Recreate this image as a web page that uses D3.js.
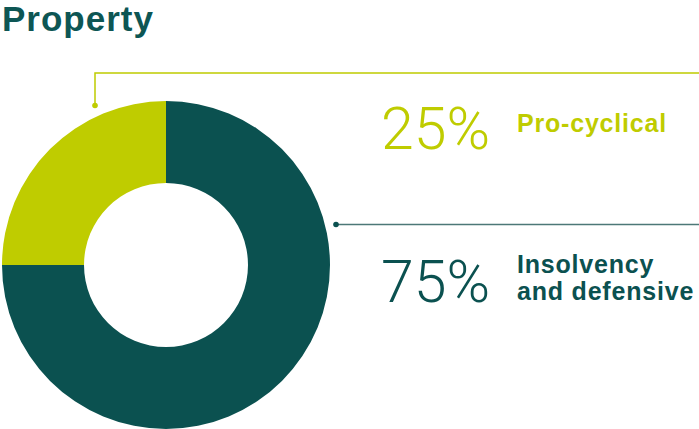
<!DOCTYPE html>
<html>
<head>
<meta charset="utf-8">
<script src="https://cdn.jsdelivr.net/npm/d3@7"></script>
<style>
  html, body { margin: 0; padding: 0; background: #fff; }
  svg { display: block; }
</style>
</head>
<body>
<svg id="chart" width="699" height="429"></svg>
<script>
// Portfolio split for the property segment
const categories = ["Insolvency and defensive", "Pro-cyclical"];
const shares = [75, 25];
const labelLines = [["Insolvency", "and defensive"], ["Pro-cyclical"]];
const colors = ["#0b5150", "#bfcc00"];

const svg = d3.select("#chart");
const width = 699, height = 429;

svg.append("text")
  .attr("x", 2).attr("y", 31)
  .attr("font-family", "Liberation Sans, Arial, sans-serif")
  .attr("font-weight", "bold")
  .attr("font-size", 35)
  .attr("letter-spacing", 1)
  .attr("fill", "#0d5654")
  .text("Property");

const cx = 166, cy = 265, outerR = 164, innerR = 82;

// Dark slice runs clockwise from 12 o'clock, green fills the top-left quadrant
const pie = d3.pie().sort(null).value(d => d).startAngle(0).endAngle(2 * Math.PI);
const arcs = pie(shares);
const arc = d3.arc().innerRadius(innerR).outerRadius(outerR);

const g = svg.append("g").attr("transform", `translate(${cx},${cy})`);
g.selectAll("path")
  .data(arcs)
  .join("path")
  .attr("d", arc)
  .attr("fill", (d, i) => colors[i]);

// Leader lines
const lineColors = ["#4d7877", "#bfcc00"];
// Insolvency: dot at the right edge, straight line out
svg.append("line")
  .attr("x1", 336).attr("y1", 224.5).attr("x2", width).attr("y2", 224.5)
  .attr("stroke", lineColors[0]).attr("stroke-width", 1.5);
svg.append("circle").attr("cx", 336).attr("cy", 224.5).attr("r", 2.8).attr("fill", colors[0]);
// Pro-cyclical: dot above the green slice, elbow up then right
svg.append("path")
  .attr("d", `M95,105.5 V73 H${width}`)
  .attr("fill", "none")
  .attr("stroke", lineColors[1]).attr("stroke-width", 1.5);
svg.append("circle").attr("cx", 95).attr("cy", 105.5).attr("r", 2.8).attr("fill", colors[1]);

// Percentage values and labels
const pctFont = "Roboto, Liberation Sans, sans-serif";
const labelFont = "Liberation Sans, Arial, sans-serif";
const rows = [
  { i: 1, pctY: 149, labelY: [132] },
  { i: 0, pctY: 302, labelY: [273, 300] }
];
rows.forEach(r => {
  svg.append("text")
    .attr("x", 381).attr("y", r.pctY)
    .attr("font-family", pctFont)
    .attr("font-weight", 300)
    .attr("font-size", 59)
    .attr("fill", colors[r.i])
    .text(d3.format("d")(shares[r.i]) + "%");
  labelLines[r.i].forEach((t, k) => {
    svg.append("text")
      .attr("x", 517).attr("y", r.labelY[k])
      .attr("font-family", labelFont)
      .attr("font-weight", "bold")
      .attr("font-size", 25)
      .attr("letter-spacing", 0.8)
      .attr("fill", colors[r.i])
      .text(t);
  });
});
</script>
</body>
</html>
